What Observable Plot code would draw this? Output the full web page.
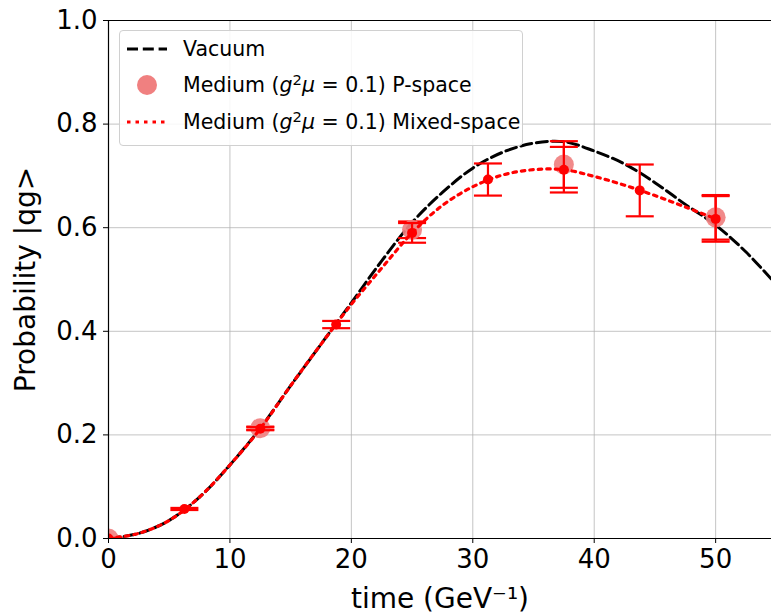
<!DOCTYPE html>
<html>
<head>
<meta charset="utf-8">
<script src="https://cdn.jsdelivr.net/npm/d3@7"></script>
<script src="https://cdn.jsdelivr.net/npm/@observablehq/plot@0.6"></script>
<style>
  body { margin: 0; background: #fff; }
  #wrap { position: relative; width: 771px; height: 614px; overflow: hidden; font-family: "DejaVu Sans", sans-serif; }
  #legend { position: absolute; left: 119px; top: 30px; width: 402px; height: 114px; border: 1px solid #d0d0d0; border-radius: 4px; background: rgba(255,255,255,0.85); font-size: 20.5px; color: #000; }
  .row { position: absolute; left: 0; height: 30px; width: 400px; }
  .row svg { position: absolute; left: 6px; top: 0; }
  .row span.lbl { position: absolute; left: 63px; top: 50%; transform: translateY(-50%); white-space: nowrap; line-height: 1; }
  .sup { font-size: 0.72em; position: relative; top: -0.5em; }
  i { font-style: oblique; }
</style>
</head>
<body>
<div id="wrap">
  <div id="chart"></div>
  <div id="legend">
    <div class="row" style="top:3px"><svg width="44" height="30"><line x1="1" y1="15" x2="41" y2="15" stroke="black" stroke-width="3" stroke-dasharray="11,4.8"/></svg><span class="lbl" id="l0"></span></div>
    <div class="row" style="top:39px"><svg width="44" height="30"><circle cx="21" cy="15" r="10" fill="lightcoral"/></svg><span class="lbl" id="l1"></span></div>
    <div class="row" style="top:76px"><svg width="44" height="30"><line x1="1" y1="15" x2="41" y2="15" stroke="red" stroke-width="3.2" stroke-dasharray="3.5,5"/></svg><span class="lbl" id="l2"></span></div>
  </div>
</div>
<script>
// ---- data ----
const vacT = [0, 2.5, 5, 7.5, 10, 12.5, 15, 17.5, 20, 22.5, 25, 27.5, 30, 32.5, 35, 37.5, 40, 42.5, 45, 47.5, 50, 52.5, 55];
const vacP = [0, 0.01, 0.035, 0.08, 0.142, 0.213, 0.295, 0.375, 0.455, 0.536, 0.61, 0.668, 0.715, 0.746, 0.763, 0.766, 0.748, 0.723, 0.687, 0.645, 0.605, 0.553, 0.49];

const mixCurveT = [0, 2.5, 5, 7.5, 10, 12.5, 15, 17.5, 20, 22.5, 25, 27.5, 30, 32.5, 35, 37.5, 40, 42.5, 45, 47.5, 50];
const mixCurveP = [0, 0.01, 0.035, 0.08, 0.142, 0.212, 0.295, 0.375, 0.452, 0.522, 0.59, 0.643, 0.679, 0.702, 0.712, 0.712, 0.699, 0.682, 0.662, 0.64, 0.617];

const mixT = [0, 6.25, 12.5, 18.75, 25, 31.25, 37.5, 43.75, 50];
const mixP = [0, 0.057, 0.212, 0.413, 0.590, 0.693, 0.712, 0.672, 0.617];
const mixErr = [0.001, 0.002, 0.003, 0.007, 0.019, 0.031, 0.044, 0.05, 0.044];

const pT = [0, 12.5, 25, 37.5, 50];
const pP = [0, 0.213, 0.596, 0.722, 0.62];
const pErr = [0.001, 0.003, 0.016, 0.045, 0.043];

const xTicks = [0, 10, 20, 30, 40, 50];
const yTicks = [0, 0.2, 0.4, 0.6, 0.8, 1.0];

const xLabel = "time (GeV\u207B\u00B9)";
const yLabel = "Probability |qg>";
const legendLabels = ["Vacuum", "Medium (<i>g</i><span class='sup'>2</span><i>\u03BC</i> = 0.1) P-space", "Medium (<i>g</i><span class='sup'>2</span><i>\u03BC</i> = 0.1) Mixed-space"];

// ---- tables ----
const vac = vacT.map((t, i) => ({t, p: vacP[i]}));
const mixCurve = mixCurveT.map((t, i) => ({t, p: mixCurveP[i]}));
const mix = mixT.map((t, i) => ({t, p: mixP[i], e: mixErr[i]}));
const pts = pT.map((t, i) => ({t, p: pP[i], e: pErr[i]}));

const cap = { draw(ctx, size) { const r = Math.sqrt(size / Math.PI); ctx.moveTo(-r, 0); ctx.lineTo(r, 0); } };

function errMarks(data) {
  return [
    Plot.ruleX(data, {x: "t", y1: d => d.p - d.e, y2: d => d.p + d.e, stroke: "red", strokeWidth: 2.2, clip: true}),
    Plot.dot(data, {x: "t", y: d => d.p - d.e, symbol: cap, r: 14, stroke: "red", fill: "none", strokeWidth: 2.2, clip: true}),
    Plot.dot(data, {x: "t", y: d => d.p + d.e, symbol: cap, r: 14, stroke: "red", fill: "none", strokeWidth: 2.2, clip: true})
  ];
}

const chart = Plot.plot({
  width: 771,
  height: 614,
  marginLeft: 108,
  marginRight: 0,
  marginTop: 20,
  marginBottom: 76,
  x: {domain: [0, 54.6]},
  y: {domain: [0, 1]},
  style: {fontFamily: "DejaVu Sans", fontSize: "26px", color: "black", background: "white", overflow: "visible"},
  marks: [
    Plot.ruleX(xTicks.slice(1), {stroke: "#b0b0b0", strokeOpacity: 0.75, strokeWidth: 1}),
    Plot.ruleY(yTicks.slice(1, -1), {stroke: "#b0b0b0", strokeOpacity: 0.75, strokeWidth: 1}),
    Plot.line(vac, {x: "t", y: "p", stroke: "black", strokeWidth: 3, strokeDasharray: "11,4.8", curve: "catmull-rom", clip: true}),
    ...errMarks(pts),
    Plot.dot(pts, {x: "t", y: "p", r: 10, fill: "lightcoral", fillOpacity: 0.92, clip: true}),
    Plot.line(mixCurve, {x: "t", y: "p", stroke: "red", strokeWidth: 3.2, strokeDasharray: "3.5,5", curve: "catmull-rom", clip: true}),
    ...errMarks(mix),
    Plot.dot(mix, {x: "t", y: "p", r: 5, fill: "red", clip: true}),
    Plot.ruleX([0], {stroke: "black", strokeWidth: 1.2}),
    Plot.ruleY([0, 1], {stroke: "black", strokeWidth: 1.2}),
    Plot.axisX({ticks: xTicks, tickFormat: d3.format("d"), tickSize: 5, tickPadding: 6, fontSize: 26, label: null}),
    Plot.axisY({ticks: yTicks, tickFormat: d3.format(".1f"), tickSize: 5, tickPadding: 6, fontSize: 26, label: null}),
    Plot.text([xLabel], {text: d => d, frameAnchor: "bottom", textAnchor: "middle", dy: 69, lineAnchor: "bottom", fontSize: 28, fill: "black"}),
    Plot.text([yLabel], {text: d => d, frameAnchor: "left", textAnchor: "middle", dx: -93, rotate: -90, lineAnchor: "top", fontSize: 28, fill: "black"})
  ]
});
document.getElementById("chart").appendChild(chart);
legendLabels.forEach((s, i) => { document.getElementById("l" + i).innerHTML = s; });
</script>
</body>
</html>
